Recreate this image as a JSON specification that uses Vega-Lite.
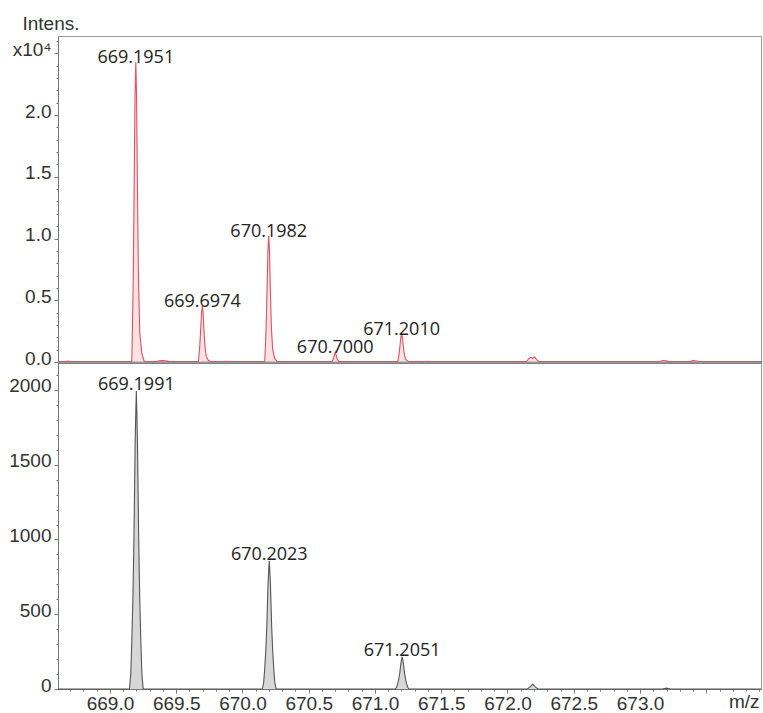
{
  "$schema": "https://vega.github.io/schema/vega-lite/v6.json",
  "padding": {"left": 8, "top": 13, "right": 1, "bottom": 0},
  "background": "white",
  "spacing": 0,
  "bounds": "flush",
  "config": {
    "view": {"stroke": "#999999", "strokeWidth": 1},
    "axis": {"labelFont": "Liberation Sans", "labelFontSize": 19, "labelColor": "#333333", "titleFont": "Liberation Sans", "titleFontSize": 19, "titleFontWeight": "normal", "titleColor": "#333333", "grid": false, "domainColor": "#777777", "tickColor": "#777777"}
  },
  "datasets": {
    "top": [
      {"mz": 668.608, "i": 0}, {"mz": 668.66, "i": 0}, {"mz": 668.68, "i": 70}, {"mz": 668.70, "i": 40}, {"mz": 668.72, "i": 0},
      {"mz": 669.165, "i": 0}, {"mz": 669.175, "i": 6075}, {"mz": 669.183, "i": 14580}, {"mz": 669.189, "i": 21380}, {"mz": 669.1951, "i": 24300}, {"mz": 669.201, "i": 21380}, {"mz": 669.207, "i": 14580}, {"mz": 669.215, "i": 6800}, {"mz": 669.225, "i": 2430}, {"mz": 669.24, "i": 730}, {"mz": 669.26, "i": 0},
      {"mz": 669.34, "i": 0}, {"mz": 669.37, "i": 90}, {"mz": 669.40, "i": 110}, {"mz": 669.43, "i": 70}, {"mz": 669.46, "i": 0},
      {"mz": 669.667, "i": 0}, {"mz": 669.677, "i": 1130}, {"mz": 669.685, "i": 2720}, {"mz": 669.691, "i": 3990}, {"mz": 669.6974, "i": 4530}, {"mz": 669.703, "i": 3990}, {"mz": 669.709, "i": 2720}, {"mz": 669.717, "i": 1270}, {"mz": 669.727, "i": 450}, {"mz": 669.742, "i": 140}, {"mz": 669.762, "i": 0},
      {"mz": 669.84, "i": 0}, {"mz": 669.87, "i": 60}, {"mz": 669.90, "i": 0},
      {"mz": 670.168, "i": 0}, {"mz": 670.178, "i": 2550}, {"mz": 670.186, "i": 6120}, {"mz": 670.192, "i": 8980}, {"mz": 670.1982, "i": 10200}, {"mz": 670.204, "i": 8980}, {"mz": 670.21, "i": 6120}, {"mz": 670.218, "i": 2860}, {"mz": 670.228, "i": 1020}, {"mz": 670.243, "i": 310}, {"mz": 670.263, "i": 0},
      {"mz": 670.675, "i": 0}, {"mz": 670.688, "i": 300}, {"mz": 670.694, "i": 600}, {"mz": 670.70, "i": 800}, {"mz": 670.706, "i": 600}, {"mz": 670.714, "i": 280}, {"mz": 670.725, "i": 80}, {"mz": 670.74, "i": 0},
      {"mz": 671.171, "i": 0}, {"mz": 671.181, "i": 570}, {"mz": 671.189, "i": 1360}, {"mz": 671.195, "i": 2000}, {"mz": 671.201, "i": 2270}, {"mz": 671.207, "i": 2000}, {"mz": 671.213, "i": 1360}, {"mz": 671.221, "i": 640}, {"mz": 671.231, "i": 230}, {"mz": 671.246, "i": 70}, {"mz": 671.266, "i": 0},
      {"mz": 671.29, "i": 0}, {"mz": 671.31, "i": 60}, {"mz": 671.33, "i": 0}, {"mz": 671.37, "i": 0}, {"mz": 671.39, "i": 50}, {"mz": 671.41, "i": 0},
      {"mz": 672.14, "i": 0}, {"mz": 672.16, "i": 250}, {"mz": 672.175, "i": 380}, {"mz": 672.19, "i": 300}, {"mz": 672.205, "i": 400}, {"mz": 672.22, "i": 200}, {"mz": 672.24, "i": 0},
      {"mz": 673.14, "i": 0}, {"mz": 673.17, "i": 120}, {"mz": 673.20, "i": 90}, {"mz": 673.23, "i": 0},
      {"mz": 673.37, "i": 0}, {"mz": 673.40, "i": 110}, {"mz": 673.43, "i": 80}, {"mz": 673.46, "i": 0},
      {"mz": 673.913, "i": 0}
    ],
    "topLabels": [
      {"mz": 669.1951, "i": 24300, "label": "669.1951"},
      {"mz": 669.6974, "i": 4530, "label": "669.6974"},
      {"mz": 670.1982, "i": 10200, "label": "670.1982"},
      {"mz": 670.7000, "i": 800, "label": "670.7000"},
      {"mz": 671.2010, "i": 2270, "label": "671.2010"}
    ],
    "bottom": [
      {"mz": 668.608, "i": 0},
      {"mz": 669.147, "i": 0}, {"mz": 669.157, "i": 100}, {"mz": 669.165, "i": 320}, {"mz": 669.173, "i": 600}, {"mz": 669.181, "i": 1000}, {"mz": 669.190, "i": 1630}, {"mz": 669.195, "i": 1850}, {"mz": 669.1991, "i": 1993}, {"mz": 669.203, "i": 1850}, {"mz": 669.208, "i": 1630}, {"mz": 669.217, "i": 1000}, {"mz": 669.225, "i": 600}, {"mz": 669.233, "i": 320}, {"mz": 669.241, "i": 100}, {"mz": 669.251, "i": 0},
      {"mz": 670.150, "i": 0}, {"mz": 670.160, "i": 43}, {"mz": 670.168, "i": 137}, {"mz": 670.176, "i": 257}, {"mz": 670.184, "i": 428}, {"mz": 670.193, "i": 702}, {"mz": 670.198, "i": 796}, {"mz": 670.2023, "i": 856}, {"mz": 670.206, "i": 796}, {"mz": 670.211, "i": 702}, {"mz": 670.220, "i": 428}, {"mz": 670.228, "i": 257}, {"mz": 670.236, "i": 137}, {"mz": 670.244, "i": 43}, {"mz": 670.254, "i": 0},
      {"mz": 671.153, "i": 0}, {"mz": 671.163, "i": 11}, {"mz": 671.171, "i": 34}, {"mz": 671.179, "i": 64}, {"mz": 671.187, "i": 107}, {"mz": 671.196, "i": 175}, {"mz": 671.201, "i": 199}, {"mz": 671.2051, "i": 214}, {"mz": 671.209, "i": 199}, {"mz": 671.214, "i": 175}, {"mz": 671.223, "i": 107}, {"mz": 671.231, "i": 64}, {"mz": 671.239, "i": 34}, {"mz": 671.247, "i": 11}, {"mz": 671.257, "i": 0},
      {"mz": 672.15, "i": 0}, {"mz": 672.17, "i": 14}, {"mz": 672.19, "i": 33}, {"mz": 672.21, "i": 14}, {"mz": 672.23, "i": 0},
      {"mz": 673.17, "i": 0}, {"mz": 673.20, "i": 6}, {"mz": 673.23, "i": 0},
      {"mz": 673.913, "i": 0}
    ],
    "bottomLabels": [
      {"mz": 669.1991, "i": 1993, "label": "669.1991"},
      {"mz": 670.2023, "i": 856, "label": "670.2023"},
      {"mz": 671.2051, "i": 214, "label": "671.2051"}
    ]
  },
  "vconcat": [
    {
      "width": 703,
      "height": 326,
      "layer": [
        {
          "data": {"name": "top"},
          "mark": {"type": "area", "color": "#f9d6da", "line": {"color": "#e0505f", "strokeWidth": 1.1}},
          "encoding": {
            "x": {"field": "mz", "type": "quantitative", "scale": {"domain": [668.608, 673.913], "nice": false, "zero": false},
              "axis": {"title": null, "labels": false, "ticks": false, "domainColor": "#000000", "domainWidth": 2}},
            "y": {"field": "i", "type": "quantitative", "scale": {"domain": [0, 26400], "nice": false},
              "axis": {
                "title": "Intens.", "titleAngle": 0, "titleAlign": "left", "titleBaseline": "middle", "titleX": -36, "titleY": -13,
                "tickCount": 200,
                "values": [0,1000,2000,3000,4000,5000,6000,7000,8000,9000,10000,11000,12000,13000,14000,15000,16000,17000,18000,19000,20000,21000,22000,23000,24000,25000,26000],
                "labelExpr": "datum.value % 5000 === 0 ? (datum.value === 25000 ? 'x10⁴' : format(datum.value / 10000, '.1f')) : ''",
                "tickSize": {"condition": {"test": "datum.value % 5000 === 0", "value": 4}, "value": 2},
                "labelPadding": 3, "labelOffset": -4, "labelOverlap": false, "labelFlush": false, "labelBound": false
              }}
          }
        },
        {
          "data": {"name": "topLabels"},
          "mark": {"type": "text", "font": "Open Sans", "fontSize": 18, "color": "#222222", "baseline": "alphabetic", "dy": 1},
          "encoding": {
            "x": {"field": "mz", "type": "quantitative"},
            "y": {"field": "i", "type": "quantitative"},
            "text": {"field": "label", "type": "nominal"}
          }
        }
      ]
    },
    {
      "width": 703,
      "height": 327,
      "layer": [
        {
          "data": {"name": "bottom"},
          "mark": {"type": "area", "color": "#c6c6c6", "line": {"color": "#555555", "strokeWidth": 1.1}},
          "encoding": {
            "x": {"field": "mz", "type": "quantitative", "scale": {"domain": [668.608, 673.913], "nice": false, "zero": false},
              "axis": {
                "title": "m/z", "titleAnchor": "end", "titleAlign": "right", "titleBaseline": "top", "titleX": 701, "titleY": 3,
                "tickCount": 200,
                "values": [668.7,668.8,668.9,669.0,669.1,669.2,669.3,669.4,669.5,669.6,669.7,669.8,669.9,670.0,670.1,670.2,670.3,670.4,670.5,670.6,670.7,670.8,670.9,671.0,671.1,671.2,671.3,671.4,671.5,671.6,671.7,671.8,671.9,672.0,672.1,672.2,672.3,672.4,672.5,672.6,672.7,672.8,672.9,673.0,673.1,673.2,673.3,673.4,673.5,673.6,673.7,673.8,673.9],
                "labelExpr": "(abs(datum.value * 2 - round(datum.value * 2)) < 0.001 && datum.value < 673.01) ? format(datum.value, '.1f') : ''",
                "tickSize": {"condition": {"test": "abs(datum.value * 2 - round(datum.value * 2)) < 0.001", "value": 4}, "value": 2},
                "labelPadding": 1, "labelBaseline": "top", "labelOverlap": false, "labelFlush": false, "labelBound": false
              }},
            "y": {"field": "i", "type": "quantitative", "scale": {"domain": [0, 2187], "nice": false},
              "axis": {
                "title": null,
                "tickCount": 200,
                "values": [0,100,200,300,400,500,600,700,800,900,1000,1100,1200,1300,1400,1500,1600,1700,1800,1900,2000,2100],
                "labelExpr": "datum.value % 500 === 0 ? format(datum.value, 'd') : ''",
                "tickSize": {"condition": {"test": "datum.value % 500 === 0", "value": 4}, "value": 2},
                "labelPadding": 3, "labelOffset": -4, "labelOverlap": false, "labelFlush": false, "labelBound": false
              }}
          }
        },
        {
          "data": {"name": "bottomLabels"},
          "mark": {"type": "text", "font": "Open Sans", "fontSize": 18, "color": "#222222", "baseline": "alphabetic", "dy": -1},
          "encoding": {
            "x": {"field": "mz", "type": "quantitative"},
            "y": {"field": "i", "type": "quantitative"},
            "text": {"field": "label", "type": "nominal"}
          }
        }
      ]
    }
  ]
}
